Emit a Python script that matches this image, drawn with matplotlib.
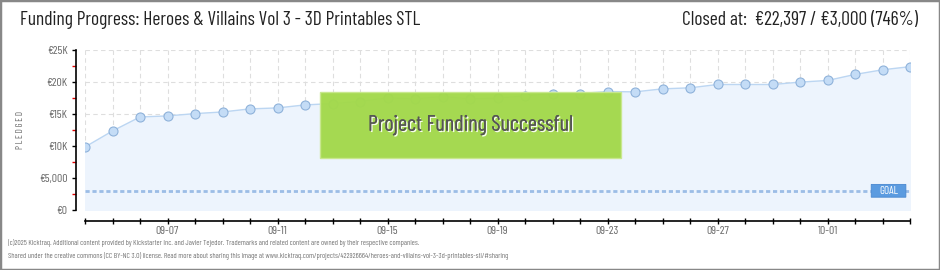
import matplotlib.pyplot as plt
from matplotlib.patches import Rectangle, FancyBboxPatch
import matplotlib.patheffects as pe

# data
dates = ['09-04', '09-05', '09-06', '09-07', '09-08', '09-09', '09-10', '09-11',
         '09-12', '09-13', '09-14', '09-15', '09-16', '09-17', '09-18', '09-19',
         '09-20', '09-21', '09-22', '09-23', '09-24', '09-25', '09-26', '09-27',
         '09-28', '09-29', '09-30', '10-01', '10-02', '10-03', '10-04']
pledged = [9850, 12350, 14540, 14700, 15060, 15320, 15800, 15950,
           16420, 16630, 16950, 17520, 17360, 17730, 17360, 17470,
           17830, 18200, 18200, 18510, 18460, 18930, 19090, 19610,
           19610, 19610, 19980, 20240, 21180, 21910, 22397]
goal = 3000
ytick_vals = [0, 5000, 10000, 15000, 20000, 25000]
ytick_labels = ['€0', '€5,000', '€10K', '€15K', '€20K', '€25K']

plt.rcParams['font.family'] = ['Barlow Condensed', 'DejaVu Sans']

W, H = 940, 270
fig = plt.figure(figsize=(W / 100, H / 100), dpi=100)

# plot area in pixels: x 85..910, y 50..210
ax = fig.add_axes([85 / W, 1 - 210 / H, 825 / W, 160 / H])
x = list(range(len(dates)))

ax.fill_between(x, pledged, 0, color='#edf4fd', zorder=1)
ax.plot(x, pledged, color='#bcd6f2', lw=1, zorder=3)
ax.plot(x, pledged, 'o', ms=6.5, mfc='#c4dcf6', mec='#8fb2da', mew=0.8, zorder=4)

# goal line
ax.axhline(goal, color='#9cbde6', lw=2, ls=(0, (1.5, 1)), zorder=2)

ax.set_xlim(0, len(dates) - 1)
ax.set_ylim(0, 25000)

# grid
for xi in x:
    ax.axvline(xi, color='#dedede', lw=0.8, ls=(0, (4, 3)), zorder=0.5)
for yv in ytick_vals:
    ax.axhline(yv, color='#dedede', lw=0.8, ls=(0, (4, 3)), zorder=0.5)

for s in ['top', 'right']:
    ax.spines[s].set_visible(False)
ax.spines['left'].set_position(('outward', 6.5))
ax.spines['bottom'].set_position(('outward', 8))
ax.spines['left'].set_linewidth(1.2)
ax.spines['bottom'].set_linewidth(1.2)

ax.set_yticks(ytick_vals)
ax.set_yticklabels(ytick_labels)
ax.set_yticks([2500, 7500, 12500, 17500, 22500], minor=True)
ax.tick_params(axis='y', which='major', length=3, width=1, labelsize=8.5,
               labelcolor='#666666', pad=3)
ax.tick_params(axis='y', which='minor', length=3, width=1, color='#e00000')

ax.set_xticks(x)
ax.set_xticklabels([d if i % 4 == 3 else '' for i, d in enumerate(dates)])
ax.tick_params(axis='x', which='major', length=5, width=1, direction='inout',
               labelsize=8.5, labelcolor='#666666', pad=1)

ax.set_ylabel('P L E D G E D', fontsize=6.5, color='#666666', labelpad=10)

# goal tag
ax.add_patch(FancyBboxPatch((0.953, goal - 1000), 0.042, 2000, transform=ax.get_yaxis_transform(),
                            boxstyle='round,pad=0,rounding_size=0.003',
                            fc='#5b9be0', ec='#4a88d0', lw=0.6, zorder=6))
ax.text(0.974, goal, 'GOAL', transform=ax.get_yaxis_transform(), ha='center', va='center',
        fontsize=8, color='white', zorder=7)

# success banner
ax.add_patch(Rectangle((0.285, 0.325), 0.365, 0.4125, transform=ax.transAxes,
                       fc='#a3d94b', ec='#c8e88e', lw=1, alpha=0.97, zorder=8))
ax.text(0.285 + 0.365 / 2, 0.53, 'Project Funding Successful', transform=ax.transAxes,
        ha='center', va='center', fontsize=16, color='#555555', zorder=9,
        path_effects=[pe.withSimplePatchShadow(offset=(1, -1), shadow_rgbFace='white', alpha=0.9),
                      pe.Normal()])

# titles
fig.text(20 / W, 1 - 20 / H, 'Funding Progress: Heroes & Villains Vol 3 - 3D Printables STL',
         fontsize=14, color='#222222', va='center', ha='left')
fig.text(918 / W, 1 - 20 / H, 'Closed at:  €22,397 / €3,000 (746%)',
         fontsize=14, color='#222222', va='center', ha='right')

# footer
fig.text(8 / W, 1 - 243 / H,
         '(c)2025 Kicktraq. Additional content provided by Kickstarter Inc. and Javier Tejedor. '
         'Trademarks and related content are owned by their respective companies.',
         fontsize=5.5, color='#777777', va='center')
fig.text(8 / W, 1 - 256 / H,
         'Shared under the creative commons (CC BY-NC 3.0) license. Read more about sharing this image at '
         'www.kicktraq.com/projects/422926664/heroes-and-villains-vol-3-3d-printables-stl/#sharing',
         fontsize=5.5, color='#777777', va='center')

# outer frame
fig.add_artist(Rectangle((0, 0), 1, 1, transform=fig.transFigure, fill=False,
                         ec='#888888', lw=2.5))

fig.savefig('out.png', dpi=100)
